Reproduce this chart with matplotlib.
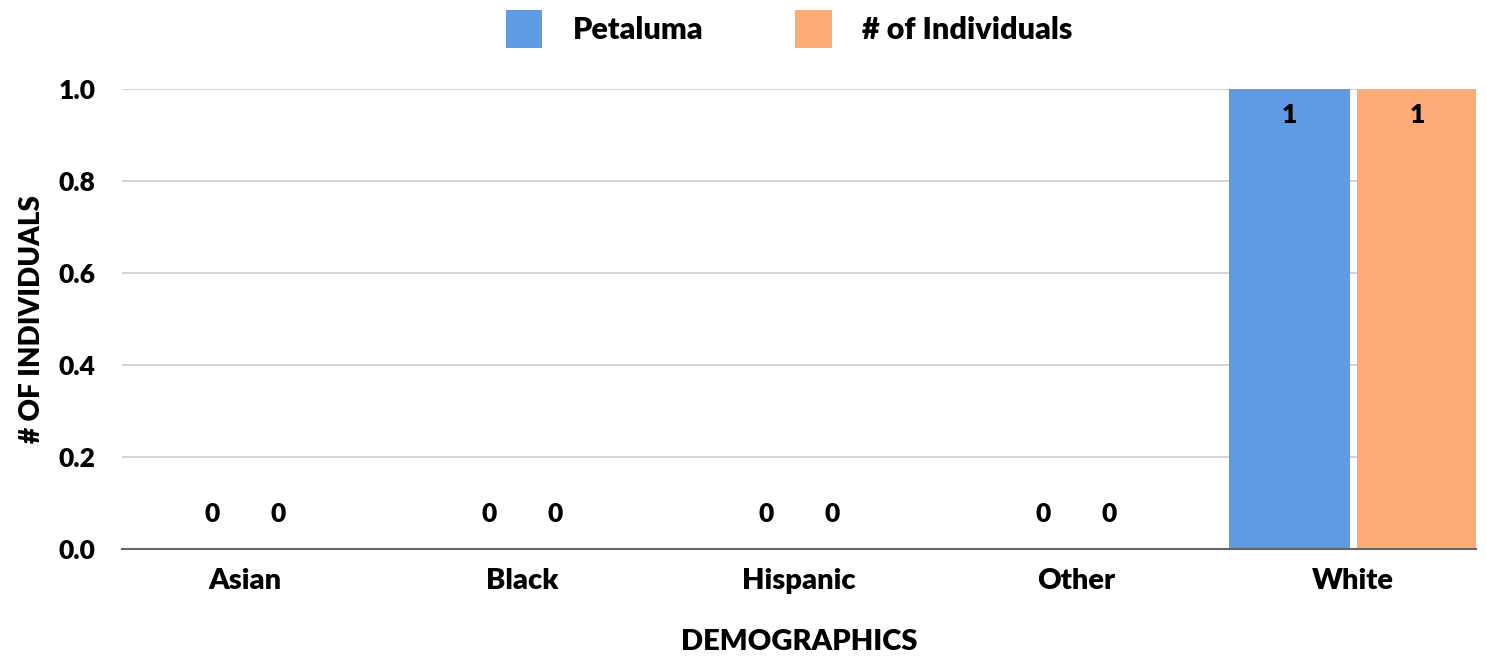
import matplotlib.pyplot as plt
import numpy as np

plt.rcParams['font.family'] = ['Lato', 'DejaVu Sans']
plt.rcParams['font.weight'] = 'heavy'

categories = ["Asian", "Black", "Hispanic", "Other", "White"]
petaluma = [0, 0, 0, 0, 1]
individuals = [0, 0, 0, 0, 1]
series_names = ["Petaluma", "# of Individuals"]
colors = ["#6099E4", "#FFAB76"]

fig = plt.figure(figsize=(14.86, 6.58), dpi=100)
ax = fig.add_axes([0.0821, 0.1657, 0.9112, 0.699])

x = np.arange(len(categories))
w = 0.437
off = 0.231
b1 = ax.bar(x - off, petaluma, w, color=colors[0], label=series_names[0], zorder=3)
b2 = ax.bar(x + off, individuals, w, color=colors[1], label=series_names[1], zorder=3)

# data labels: inside the top for nonzero, just above baseline for zeros
for vals, shift in [(petaluma, -0.12), (individuals, 0.12)]:
    for i, v in enumerate(vals):
        if v > 0:
            xi = i - off if shift < 0 else i + off
            ax.annotate(str(v), (xi, v), xytext=(0, -10), textcoords="offset points",
                        ha="center", va="top", fontsize=19, fontweight="heavy", zorder=4)
        else:
            ax.annotate(str(v), (i + shift, v), xytext=(0, 25), textcoords="offset points",
                        ha="center", va="center", fontsize=19, fontweight="heavy", zorder=4)

ax.set_xlim(-0.444, 4.444)
ax.set_ylim(0, 1)
ax.set_yticks([0, 0.2, 0.4, 0.6, 0.8, 1.0])
ax.set_yticklabels(["0.0", "0.2", "0.4", "0.6", "0.8", "1.0"])
ax.set_xticks(x)
ax.set_xticklabels(categories)
ax.tick_params(axis="y", length=0, pad=19, labelsize=19)
ax.tick_params(axis="x", length=0, pad=14, labelsize=21)
for lab in ax.get_xticklabels() + ax.get_yticklabels():
    lab.set_fontweight("heavy")

ax.grid(axis="y", color="#cccccc", linewidth=1.2, zorder=0)
for s in ["top", "right", "left"]:
    ax.spines[s].set_visible(False)
ax.spines["bottom"].set_color("#666666")
ax.spines["bottom"].set_linewidth(1.5)
ax.spines["bottom"].set_zorder(4)

ax.set_xlabel("DEMOGRAPHICS", fontsize=21, fontweight="heavy", labelpad=25)
ax.set_ylabel("# OF INDIVIDUALS", fontsize=20, fontweight="heavy", labelpad=10)

fig.legend(loc="upper center", bbox_to_anchor=(0.531, 1.026), ncol=2, frameon=False,
           handlelength=1.2, handleheight=1.5, columnspacing=3.0,
           handletextpad=1.0, prop={"weight": "heavy", "size": 22})

fig.savefig("out.png", dpi=100, facecolor="white")
